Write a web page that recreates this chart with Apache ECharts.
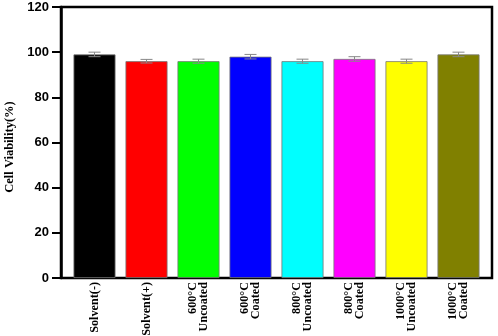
<!DOCTYPE html>
<html><head><meta charset="utf-8">
<script src="https://cdn.jsdelivr.net/npm/echarts@6/dist/echarts.min.js"></script>
<style>html,body{margin:0;padding:0;background:#fff}#c{width:498px;height:336px}</style>
</head><body><div id="c"></div>
<script>
const categories = ['Solvent(-)', 'Solvent(+)', '600°C\nUncoated', '600°C\nCoated', '800°C\nUncoated', '800°C\nCoated', '1000°C\nUncoated', '1000°C\nCoated'];
const values = [99, 96, 96, 98, 96, 97, 96, 99];
const errors = [1, 0.8, 0.9, 1, 0.9, 1, 0.9, 1];
const colors = ['#000000', '#ff0000', '#00ff00', '#0000ff', '#00ffff', '#ff00ff', '#ffff00', '#808000'];
const yTicks = [0, 20, 40, 60, 80, 100, 120];

const chart = echarts.init(document.getElementById('c'));
chart.setOption({
  animation: false,
  grid: [
    {left: 61, right: 6, top: 7, bottom: 58, containLabel: false, outerBoundsMode: 'none', show: true, borderColor: '#000', borderWidth: 2.5, backgroundColor: 'transparent'},
    {left: 68.5, right: 13.5, top: 7, bottom: 58, containLabel: false, outerBoundsMode: 'none'}
  ],
  xAxis: [
    {gridIndex: 0, type: 'value', show: false, min: 0, max: 1},
    {
      gridIndex: 1, type: 'category', data: categories,
      axisLine: {show: false},
      axisTick: {show: false},
      axisLabel: {rotate: 90, interval: 0, margin: 4, fontFamily: 'Liberation Serif', fontWeight: 'bold', fontSize: 12.2, color: '#000', lineHeight: 11}
    }
  ],
  yAxis: [
    {gridIndex: 0, type: 'value', show: false, min: 0, max: 1},
    {
      gridIndex: 1, type: 'value', offset: 7.5, min: yTicks[0], max: yTicks[yTicks.length - 1], interval: 20,
      name: 'Cell Viability(%)', nameLocation: 'middle', nameGap: 44,
      nameTextStyle: {fontFamily: 'Liberation Serif', fontSize: 12.5, fontWeight: 'bold', color: '#000', padding: [0, 9, 0, 0]},
      axisLine: {show: true, lineStyle: {color: '#000', width: 2.5}},
      axisTick: {show: true, length: 9, lineStyle: {color: '#000', width: 2}},
      splitLine: {show: false},
      axisLabel: {margin: 12, fontFamily: 'Liberation Sans', fontWeight: 'bold', fontSize: 13, color: '#000'}
    }
  ],
  series: [
    {
      type: 'bar', xAxisIndex: 1, yAxisIndex: 1, barWidth: 42,
      data: values.map((v, i) => ({value: v, itemStyle: {color: colors[i], borderColor: '#777', borderWidth: 0.8}}))
    },
    {
      type: 'custom', xAxisIndex: 1, yAxisIndex: 1, z: 5,
      data: values.map((v, i) => [i, v, errors[i]]),
      renderItem: function (params, api) {
        const x = api.value(0), v = api.value(1), e = api.value(2);
        const hi = api.coord([x, v + e]);
        const lo = api.coord([x, v - e]);
        const w = 6;
        const st = {stroke: '#888', lineWidth: 1};
        return {type: 'group', children: [
          {type: 'line', shape: {x1: hi[0], y1: hi[1], x2: lo[0], y2: lo[1]}, style: st},
          {type: 'line', shape: {x1: hi[0] - w, y1: hi[1], x2: hi[0] + w, y2: hi[1]}, style: st},
          {type: 'line', shape: {x1: lo[0] - w, y1: lo[1], x2: lo[0] + w, y2: lo[1]}, style: st}
        ]};
      }
    }
  ]
});
</script></body></html>
